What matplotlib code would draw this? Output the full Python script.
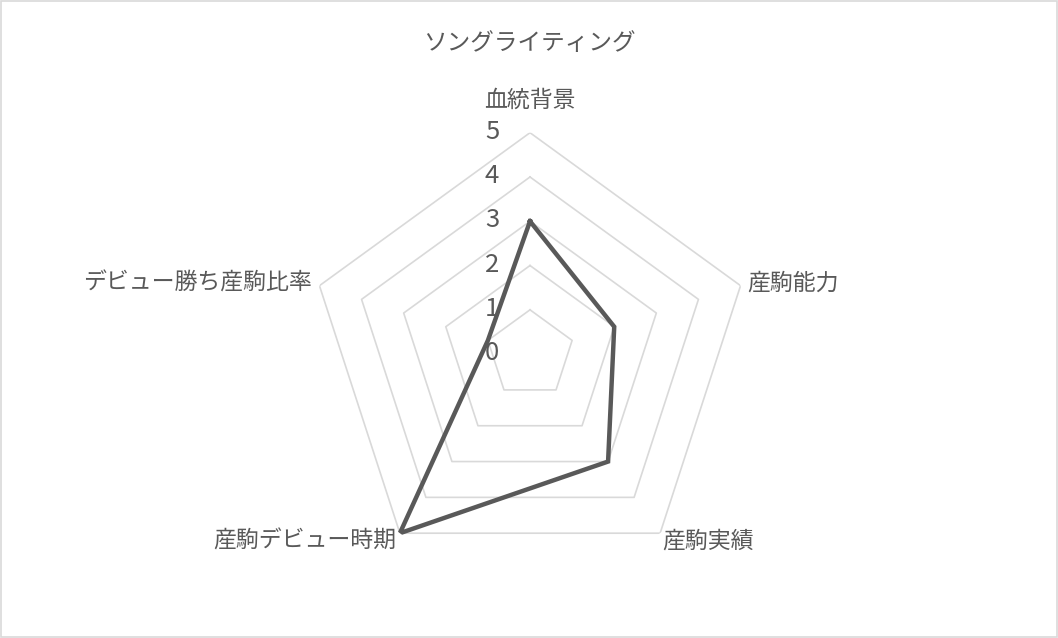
import numpy as np
import matplotlib
matplotlib.use('Agg')
import matplotlib.pyplot as plt
from matplotlib.patches import Rectangle

plt.rcParams['font.family'] = ['Noto Sans CJK JP', 'DejaVu Sans']

# データ
categories = ['血統背景', '産駒能力', '産駒実績', '産駒デビュー時期', 'デビュー勝ち産駒比率']
values = [3, 2, 3, 5, 1]
levels = [1, 2, 3, 4, 5]
tick_labels = ['0', '1', '2', '3', '4', '5']
title = 'ソングライティング'

grid_col = '#D9D9D9'
text_col = '#595959'
line_col = '#595959'

fig = plt.figure(figsize=(10.58, 6.38), dpi=100)
fig.patches.append(Rectangle((0.001, 0.001), 0.998, 0.997, transform=fig.transFigure,
                             fill=False, edgecolor=grid_col, linewidth=1.2))

ax = fig.add_axes([0.2916, 0.098, 0.4187, 0.694], projection='polar')
ax.set_theta_offset(np.pi / 2)
ax.set_theta_direction(-1)
ax.set_ylim(0, 5)
ax.grid(False)
ax.spines['polar'].set_visible(False)
ax.set_xticks([])
ax.set_yticks([])
ax.patch.set_alpha(0)

n = len(categories)
angles = np.arange(n) * 2 * np.pi / n
closed = np.append(angles, angles[0])

# 目盛りの五角形
for lv in levels:
    ax.plot(closed, [lv] * (n + 1), color=grid_col, linewidth=1.2, zorder=1)

# データ線
ax.plot(closed, values + values[:1], color=line_col, linewidth=3.2, zorder=3,
        solid_joinstyle='miter')

# 目盛りラベル
for i, t in enumerate(tick_labels):
    ax.annotate(t, xy=(0, i), xytext=(-38, 1), textcoords='offset pixels',
                ha='center', va='center', fontsize=18.5, color=text_col, zorder=2)

# 項目ラベル
offsets = [(0, 32, 'center', 'center'), (7, 3, 'left', 'center'),
           (2, -8, 'left', 'center'), (-4, -8, 'right', 'center'),
           (-8, 3, 'right', 'center')]
for ang, lab, (dx, dy, ha, va) in zip(angles, categories, offsets):
    ax.annotate(lab, xy=(ang, 5), xytext=(dx, dy), textcoords='offset pixels',
                ha=ha, va=va, fontsize=16.5, color=text_col)

fig.text(0.5, 1 - 44 / 638, title, ha='center', va='center', fontsize=17, color=text_col)

fig.savefig('out.png', dpi=100)
